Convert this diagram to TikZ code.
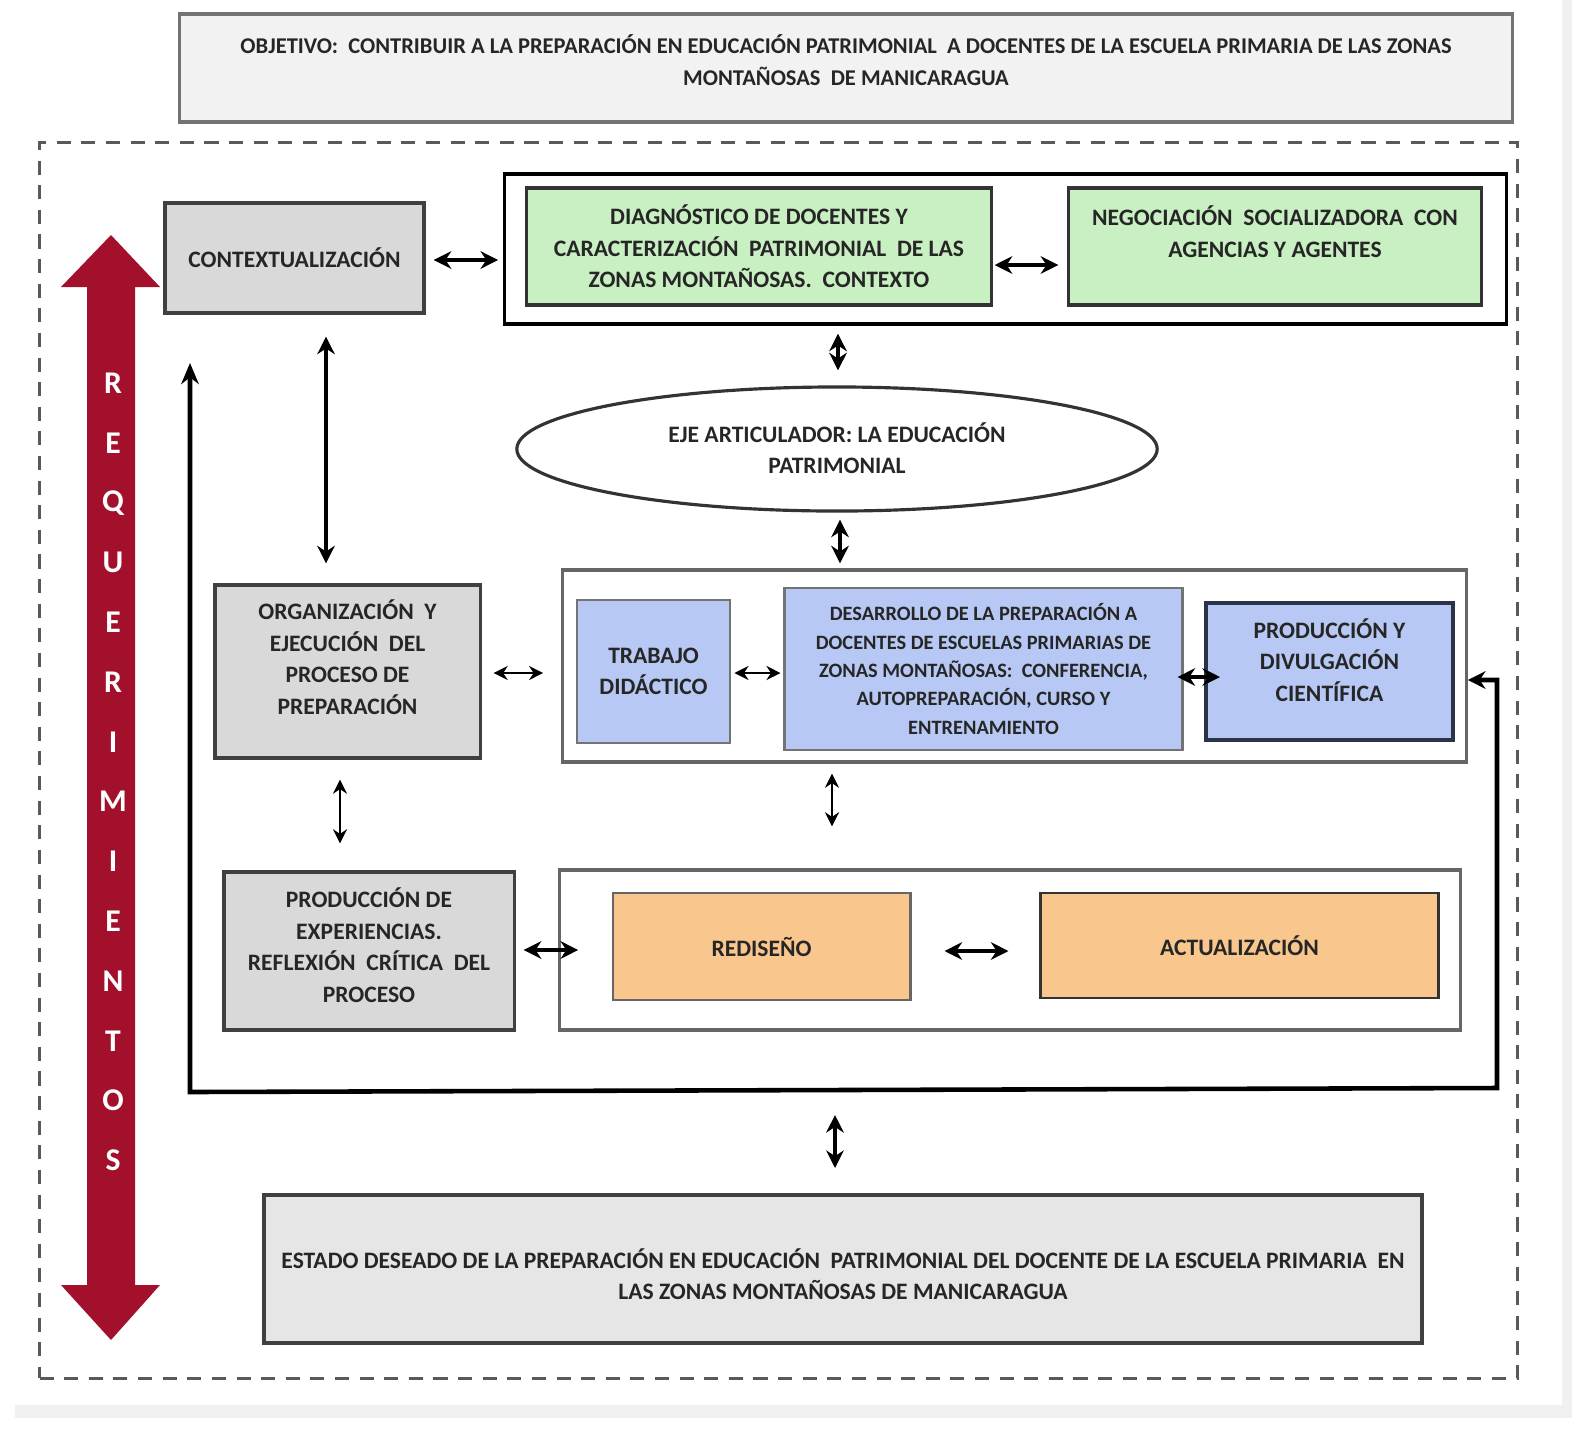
\documentclass[tikz,border=0pt]{standalone}
\usepackage{fontspec}
\setmainfont{Carlito}
\usetikzlibrary{arrows.meta,shapes.geometric,calc}
\definecolor{boxgray}{HTML}{D9D9D9}
\definecolor{lightgray}{HTML}{E6E6E6}
\definecolor{palegray}{HTML}{F2F2F2}
\definecolor{boxgreen}{HTML}{C9F0C2}
\definecolor{boxblue}{HTML}{B6C8F3}
\definecolor{boxorange}{HTML}{F9C78D}
\definecolor{reqred}{HTML}{A3102C}
\definecolor{navy}{HTML}{2B3447}
\tikzset{
  txt/.style={font=\bfseries\fontsize{6.7}{9}\selectfont, align=center, text=black!85},
  graybox/.style={txt, draw=black!75, fill=boxgray, line width=0.9pt},
  container/.style={draw=black, fill=white, line width=0.9pt},
  greenbox/.style={txt, draw=black!80, fill=boxgreen, line width=0.9pt},
  bluebox/.style={txt, draw=black!55, fill=boxblue, line width=0.8pt},
  orangebox/.style={txt, draw=black!60, fill=boxorange, line width=0.8pt},
  dbl/.style={{Stealth[length=5pt,width=5pt]}-{Stealth[length=5pt,width=5pt]}, line width=1.1pt, black},
  dblthin/.style={{Stealth[length=4pt,width=4pt]}-{Stealth[length=4pt,width=4pt]}, line width=0.8pt, black},
}
\begin{document}
\begin{tikzpicture}[x=0.01cm,y=-0.01cm]
\useasboundingbox (0,0) rectangle (1579,1439);
% faint page edges
\fill[black!6] (15,1405) rectangle (1572,1418);
\fill[black!6] (1562,0) rectangle (1572,1418);

% objective
\node[draw=black!55, fill=palegray, line width=1pt, minimum width=13.32cm, minimum height=1.08cm] (obj) at (846,68) {};
\node[txt, font=\bfseries\fontsize{6.4}{9}\selectfont] (objt) at (846,60)
  {OBJETIVO:\ \ CONTRIBUIR A LA PREPARACIÓN EN EDUCACIÓN PATRIMONIAL\ \ A DOCENTES DE LA ESCUELA PRIMARIA DE LAS ZONAS\\ MONTAÑOSAS\ \ DE MANICARAGUA};

% dashed frame
\node[draw=black!65, line width=1pt, dash pattern=on 4pt off 3pt, minimum width=14.77cm, minimum height=12.35cm, inner sep=0pt] (frame) at (778.5,760.5) {};

% red arrow
\fill[reqred] (111,235) -- (160,287) -- (135,287) -- (135,1285) -- (160,1285) -- (111,1340)
   -- (61,1285) -- (87,1285) -- (87,287) -- (61,287) -- cycle;
\foreach \l [count=\i from 0] in {R,E,Q,U,E,R,I,M,I,E,N,T,O,S}
  \node[text=white, font=\bfseries\fontsize{9}{9}\selectfont] (req\i) at (113,383+59.8*\i) {\l};

% top row
\node[graybox, minimum width=2.59cm, minimum height=1.10cm] (ctx) at (294.5,258) {CONTEXTUALIZACIÓN};
\node[container, minimum width=10.01cm, minimum height=1.50cm] (topc) at (1005.5,249) {};
\node[greenbox, minimum width=4.64cm, minimum height=1.17cm] (diag) at (759,246.5)
  {DIAGNÓSTICO DE DOCENTES Y\\ CARACTERIZACIÓN\ \ PATRIMONIAL\ \ DE LAS\\ ZONAS MONTAÑOSAS.\ \ CONTEXTO};
\node[greenbox, minimum width=4.12cm, minimum height=1.17cm] (nego) at (1275,246.5) {};
\node[txt] (negot) at (1275,232) {NEGOCIACIÓN\ \ SOCIALIZADORA\ \ CON\\ AGENCIAS Y AGENTES};

% ellipse
\node[txt, ellipse, draw=black!80, line width=0.9pt, fill=white, minimum width=6.4cm, minimum height=1.24cm, inner sep=0pt] (ell) at (837,449) {};
\node[txt] (ellt) at (837,448) {EJE ARTICULADOR: LA EDUCACIÓN\\ PATRIMONIAL};

% middle row
\node[graybox, minimum width=2.65cm, minimum height=1.73cm] (org) at (347.5,671.5) {};
\node[txt] (orgt) at (347.5,657) {ORGANIZACIÓN\ \ Y\\ EJECUCIÓN\ \ DEL\\ PROCESO DE\\ PREPARACIÓN};
\node[container, draw=black!60, minimum width=9.03cm, minimum height=1.92cm] (midc) at (1014.5,666) {};
\node[bluebox, minimum width=1.53cm, minimum height=1.43cm] (trab) at (653.5,671.5) {TRABAJO\\ DIDÁCTICO};
\node[bluebox, minimum width=3.97cm, minimum height=1.62cm, font=\bfseries\fontsize{5.8}{8.1}\selectfont] (desa) at (983.5,669)
  {DESARROLLO DE LA PREPARACIÓN A\\ DOCENTES DE ESCUELAS PRIMARIAS DE\\ ZONAS MONTAÑOSAS:\ \ CONFERENCIA,\\ AUTOPREPARACIÓN, CURSO Y\\ ENTRENAMIENTO};
\node[bluebox, draw=navy, line width=1.1pt, minimum width=2.47cm, minimum height=1.37cm] (prod) at (1329.5,671.5) {};
\node[txt] (prodt) at (1329.5,660) {PRODUCCIÓN Y\\ DIVULGACIÓN\\ CIENTÍFICA};

% bottom row
\node[graybox, minimum width=2.90cm, minimum height=1.58cm] (exp) at (369,951) {};
\node[txt] (expt) at (369,945) {PRODUCCIÓN DE\\ EXPERIENCIAS.\\ REFLEXIÓN\ \ CRÍTICA\ \ DEL\\ PROCESO};
\node[container, draw=black!60, minimum width=9.0cm, minimum height=1.6cm] (botc) at (1010,950) {};
\node[orangebox, minimum width=2.97cm, minimum height=1.07cm] (redi) at (761.5,946.5) {REDISEÑO};
\node[orangebox, draw=black!80, minimum width=3.97cm, minimum height=1.05cm] (actu) at (1239.5,945.5) {ACTUALIZACIÓN};

% final state
\node[txt, draw=black!75, fill=lightgray, line width=1.1pt, minimum width=11.58cm, minimum height=1.48cm] (estado) at (843,1269) {};
\node[txt] (estadot) at (843,1274) {ESTADO DESEADO DE LA PREPARACIÓN EN EDUCACIÓN\ \ PATRIMONIAL DEL DOCENTE DE LA ESCUELA PRIMARIA\ \ EN\\ LAS ZONAS MONTAÑOSAS DE MANICARAGUA};

% feedback loop
\coordinate (fb1) at (1497,680);
\coordinate (fb2) at (1497,1088);
\coordinate (fb3) at (190,1092);
\coordinate (fb4) at (190,363);
\coordinate (fbm) at (835,1090);
\draw[line width=1.3pt, {Stealth[length=5pt,width=5pt]}-{Stealth[length=6pt,width=5pt]}]
  (midc.east |- fb1) -- (fb1) -- (fb2) -- (fb3) -- (fb4);

% connectors
\draw[dbl, shorten <=0.8mm, shorten >=0.5mm] (ctx.east |- 0,260) -- (topc.west |- 0,260);
\draw[dbl, shorten <=0.2mm, shorten >=0.9mm] (diag.east |- 0,265) -- (nego.west |- 0,265);
\draw[dbl, shorten <=2.2mm, shorten >=2mm] (ctx.south -| 326,0) -- (org.north -| 326,0);
\draw[dbl, shorten <=0.8mm, shorten >=1.5mm] (topc.south -| 838,0) -- (ell.north -| 838,0);
\draw[dbl, shorten <=0.7mm, shorten >=0.5mm] (ell.south -| 840,0) -- (midc.north -| 840,0);
\draw[dblthin, shorten <=1.2mm, shorten >=1.8mm] (org.east |- 0,673) -- (midc.west |- 0,673);
\draw[dblthin, shorten <=0.3mm, shorten >=0.3mm] (trab.east |- 0,673) -- (desa.west |- 0,673);
\draw[dbl, shorten <=-0.6mm, shorten >=-1.6mm] (desa.east |- 0,677) -- (prod.west |- 0,677);
\draw[dblthin, shorten <=2mm, shorten >=2.7mm] (org.south -| 340,0) -- (exp.north -| 340,0);
\draw[dblthin, shorten <=1mm, shorten >=4.2mm] (midc.south -| 832,0) -- (botc.north -| 832,0);
\draw[dbl, shorten <=0.8mm, shorten >=-2mm] (exp.east |- 0,950) -- (botc.west |- 0,950);
\draw[dbl, shorten <=3.3mm, shorten >=3.1mm] (redi.east |- 0,951) -- (actu.west |- 0,951);
\draw[dbl, shorten <=2.5mm, shorten >=2.5mm] (fbm) -- (estado.north -| fbm);
\end{tikzpicture}
\end{document}
